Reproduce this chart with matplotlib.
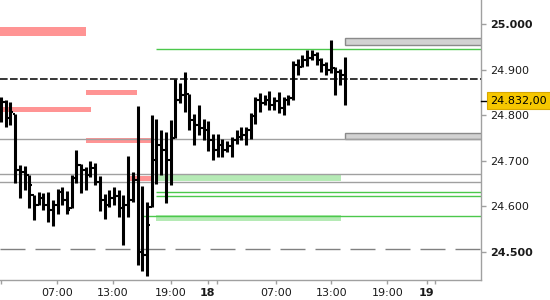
import matplotlib
matplotlib.use('Agg')
import matplotlib.pyplot as plt
import matplotlib.transforms as mtrans
from matplotlib.patches import Rectangle
import numpy as np

plt.rcParams['font.family'] = ['DejaVu Sans']
plt.rcParams['lines.scale_dashes'] = False

# ---- OHLC data (30-min bars) ----
high = [24840, 24833, 24829, 24803, 24691, 24689, 24669, 24625, 24632, 24629,
        24632, 24614, 24638, 24643, 24634, 24669, 24724, 24693, 24686, 24700,
        24695, 24667, 24627, 24636, 24643, 24636, 24625, 24711, 24675, 24820,
        24645, 24610, 24800, 24792, 24768, 24763, 24789, 24879, 24871, 24895,
        24847, 24803, 24822, 24792, 24787, 24759, 24759, 24748, 24743, 24752,
        24768, 24774, 24774, 24805, 24840, 24849, 24844, 24853, 24840, 24851,
        24840, 24844, 24919, 24923, 24932, 24943, 24943, 24939, 24925, 24917,
        24965, 24906, 24901, 24928]
low = [24785, 24774, 24779, 24651, 24618, 24636, 24597, 24570, 24603, 24592,
       24566, 24557, 24583, 24603, 24583, 24597, 24651, 24629, 24636, 24664,
       24647, 24590, 24572, 24599, 24603, 24577, 24515, 24577, 24610, 24471,
       24458, 24447, 24599, 24649, 24669, 24607, 24647, 24750, 24827, 24807,
       24768, 24735, 24757, 24746, 24722, 24702, 24708, 24708, 24719, 24708,
       24737, 24746, 24735, 24748, 24781, 24807, 24822, 24811, 24811, 24805,
       24800, 24822, 24833, 24888, 24906, 24908, 24921, 24910, 24895, 24888,
       24893, 24844, 24866, 24822]
open_ = [24811, 24829, 24794, 24803, 24680, 24675, 24669, 24625, 24603, 24618,
         24603, 24592, 24603, 24632, 24614, 24597, 24662, 24691, 24680, 24669,
         24684, 24654, 24614, 24603, 24618, 24623, 24597, 24603, 24614, 24658,
         24500, 24493, 24599, 24702, 24735, 24724, 24702, 24750, 24833, 24844,
         24847, 24789, 24779, 24772, 24768, 24746, 24724, 24735, 24724, 24732,
         24746, 24752, 24757, 24768, 24798, 24833, 24827, 24833, 24822, 24831,
         24816, 24833, 24838, 24910, 24906, 24921, 24925, 24932, 24921, 24910,
         24899, 24904, 24895, 24888]
close = [24829, 24794, 24807, 24680, 24675, 24669, 24647, 24603, 24618, 24603,
         24592, 24603, 24632, 24614, 24592, 24662, 24691, 24680, 24669, 24684,
         24654, 24614, 24603, 24618, 24623, 24597, 24603, 24614, 24658, 24500,
         24493, 24559, 24702, 24735, 24724, 24702, 24746, 24833, 24844, 24855,
         24789, 24779, 24772, 24768, 24746, 24724, 24735, 24724, 24732, 24746,
         24752, 24757, 24768, 24798, 24833, 24827, 24833, 24822, 24831, 24816,
         24833, 24838, 24910, 24899, 24921, 24925, 24932, 24921, 24910, 24899,
         24904, 24895, 24888, 24832]
last_price = 24832

# ---- levels / zones (bar-index ranges, price ranges) ----
red_start = [-0.2, 18.05, -0.2, 18.05, 27.4]
red_end = [18.05, 28.9, 19.1, 31.8, 31.8]
red_hi = [24993, 24855, 24818, 24750, 24667]
red_lo = [24974, 24844, 24807, 24739, 24656]

green_start = [32.9, 32.9]
green_end = [72.2, 72.2]
green_hi = [24671, 24581]
green_lo = [24656, 24569]

gline_start = [32.9, 32.9, 32.9, 29.9]
gline_price = [24945, 24632, 24623, 24579]

gray_levels = [24747, 24671, 24653]
black_dash_level = 24879
gray_dash_level = 24507

box_start = [73.0, 73.0]
box_hi = [24969, 24761]
box_lo = [24955, 24748]

ytick_vals = [24500, 24600, 24700, 24800, 24900, 25000]
ytick_labels = ['24.500', '24.600', '24.700', '24.800', '24.900', '25.000']
xtick_pos = [0, 11.9, 23.8, 36.1, 43.9, 45.9, 58.4, 70.1, 82.0, 90.4, 92.1]
xtick_labels = ['', '07:00', '13:00', '19:00', '18', '', '07:00', '13:00', '19:00', '19', '']
bold_x = ['18', '19']
bold_y = ['24.500', '25.000']

# ---- figure ----
fig = plt.figure(figsize=(5.5, 3.0), dpi=100)
ax = fig.add_axes([0, 20 / 300, 481 / 550, 280 / 300])
XMIN, XMAX = -0.212, 101.9
ax.set_xlim(XMIN, XMAX)
ax.set_ylim(24438.6, 25052.6)

gray = '#a0a0a0'
for s in ['top', 'left']:
    ax.spines[s].set_visible(False)
for s in ['right', 'bottom']:
    ax.spines[s].set_color(gray)
    ax.spines[s].set_linewidth(1.0)

# zones
for s, e, h, l in zip(red_start, red_end, red_hi, red_lo):
    ax.add_patch(Rectangle((s, l), e - s, h - l, facecolor='#ff9494', edgecolor='none', zorder=1))
for s, e, h, l in zip(green_start, green_end, green_hi, green_lo):
    ax.add_patch(Rectangle((s, l), e - s, h - l, facecolor='#b5eab5', edgecolor='none', zorder=1))
for s, h, l in zip(box_start, box_hi, box_lo):
    ax.add_patch(Rectangle((s, l), XMAX - s + 2, h - l, facecolor='#d2d2d2', edgecolor='#8a8a8a',
                           lw=1.0, zorder=2))

# lines
for p in gray_levels:
    ax.axhline(p, color=gray, lw=1.0, zorder=2)
for s, p in zip(gline_start, gline_price):
    ax.hlines(p, s, XMAX + 1, color='#4cc84c', lw=1.0, zorder=2)
ax.axhline(black_dash_level, color='black', lw=1.1, linestyle=(0, (5.5, 1.7)), zorder=2)
ax.axhline(gray_dash_level, color='#808080', lw=1.0, linestyle=(0, (18, 7.2)), zorder=2)

# OHLC bars
x = np.arange(len(high))
ax.vlines(x, low, high, color='black', lw=2.2, zorder=4)
ax.hlines(open_, x - 0.55, x, color='black', lw=1.5, zorder=4)
ax.hlines(close, x, x + 0.55, color='black', lw=1.5, zorder=4)

# ticks
ax.yaxis.tick_right()
ax.set_yticks(ytick_vals)
ax.set_yticklabels(ytick_labels)
ax.set_xticks(xtick_pos)
ax.set_xticklabels(xtick_labels)
ax.tick_params(axis='both', direction='out', color=gray, width=1.0, labelsize=8,
               labelcolor='#1a1a1a')
ax.tick_params(axis='y', length=3.6, pad=3.2)
ax.tick_params(axis='x', length=2.9, pad=3.0)
for t in ax.get_yticklabels():
    if t.get_text() in bold_y:
        t.set_fontweight('bold')
for t in ax.get_xticklabels():
    if t.get_text() in bold_x:
        t.set_fontweight('bold')

# last price marker
trans = mtrans.blended_transform_factory(ax.transAxes, ax.transData)
ax.plot([1.0, 1.0 + 6 / 481], [last_price, last_price], color='black', lw=1.0,
        transform=trans, clip_on=False, zorder=6)
lbl = '{:,.2f}'.format(last_price).replace(',', 'X').replace('.', ',').replace('X', '.')
ax.text(1.0 + 9.5 / 481, last_price, lbl, transform=trans, ha='left', va='center',
        fontsize=8, color='black', zorder=7, clip_on=False,
        bbox=dict(boxstyle='square,pad=0.33', facecolor='#f6c700', edgecolor='#d9a800', lw=0.8))

fig.savefig('out.png', dpi=100)
